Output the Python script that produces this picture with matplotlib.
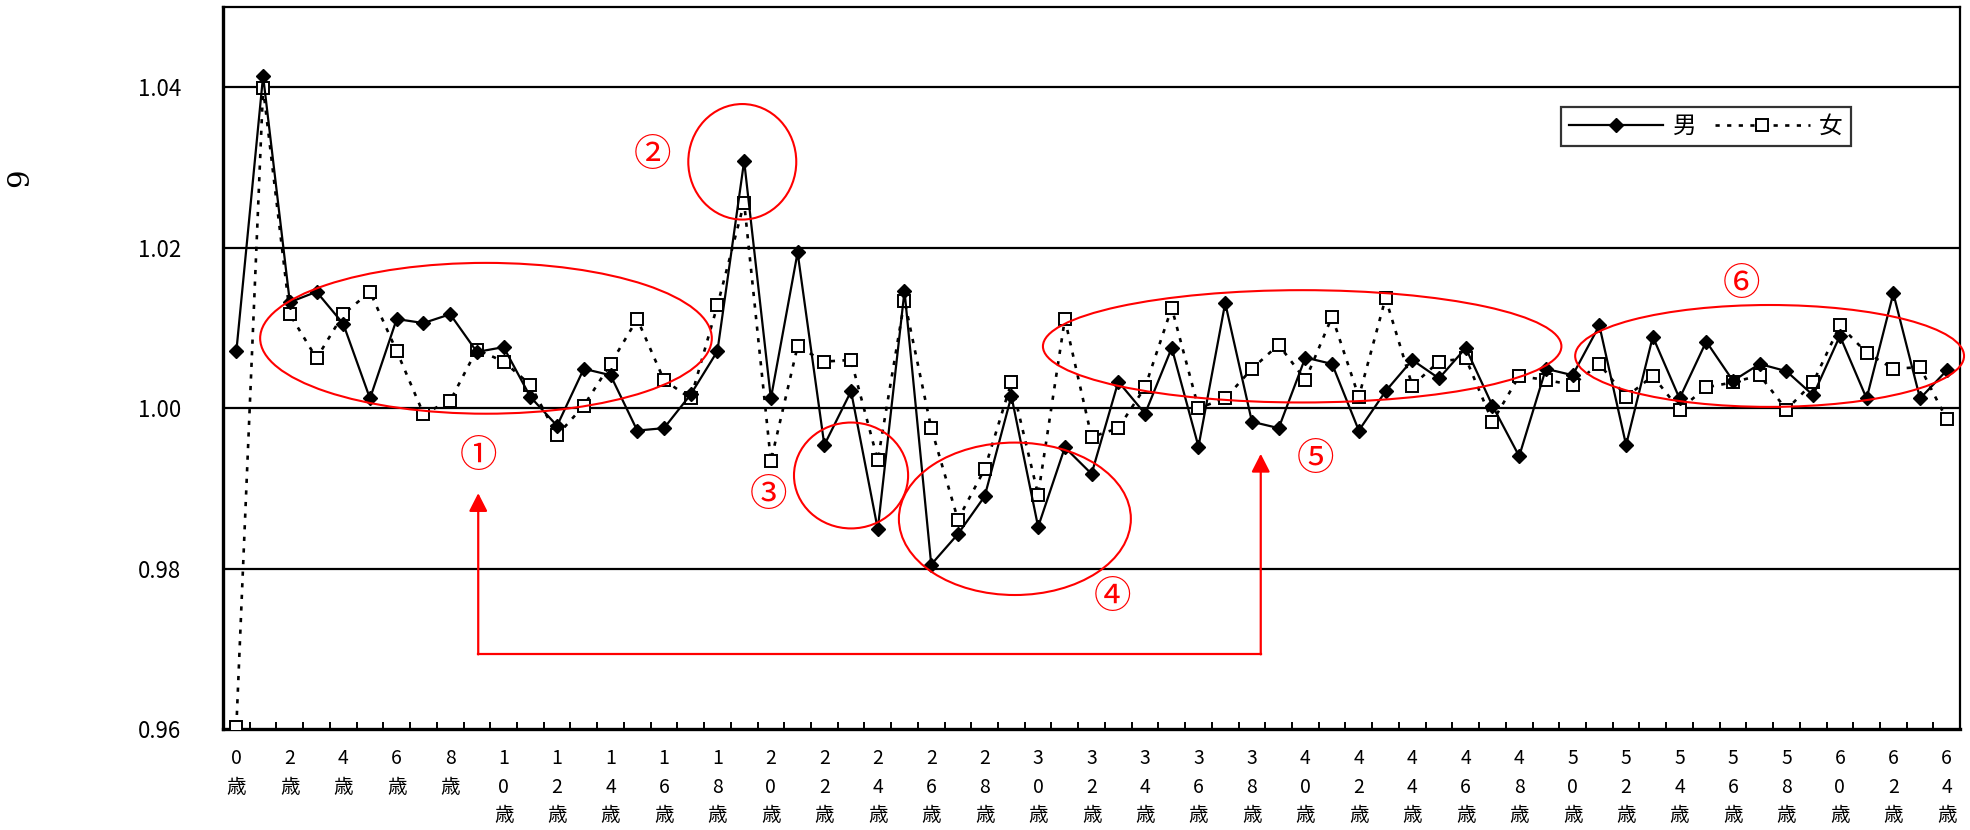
import matplotlib
matplotlib.use("Agg")
import matplotlib.pyplot as plt
from matplotlib.patches import Ellipse

plt.rcParams['font.family'] = ['Noto Sans CJK JP', 'DejaVu Sans']

# ages 0..64, one category per year
ages = list(range(65))

male = [1.0071, 1.0414, 1.0132, 1.0145, 1.0105, 1.0012, 1.0111, 1.0106, 1.0117, 1.0070,
        1.0076, 1.0014, 0.9978, 1.0049, 1.0041, 0.9972, 0.9975, 1.0017, 1.0071, 1.0308,
        1.0012, 1.0194, 0.9954, 1.0021, 0.9849, 1.0146, 0.9805, 0.9843, 0.9890, 1.0015,
        0.9852, 0.9951, 0.9918, 1.0033, 0.9993, 1.0075, 0.9952, 1.0131, 0.9983, 0.9975,
        1.0063, 1.0055, 0.9972, 1.0021, 1.0060, 1.0037, 1.0075, 1.0003, 0.9940, 1.0049,
        1.0041, 1.0103, 0.9954, 1.0089, 1.0012, 1.0083, 1.0034, 1.0055, 1.0046, 1.0016,
        1.0090, 1.0012, 1.0143, 1.0012, 1.0047]

female = [0.9603, 1.0399, 1.0117, 1.0062, 1.0117, 1.0145, 1.0071, 0.9993, 1.0009, 1.0073,
          1.0058, 1.0029, 0.9966, 1.0003, 1.0055, 1.0111, 1.0035, 1.0012, 1.0128, 1.0256,
          0.9934, 1.0077, 1.0058, 1.0060, 0.9935, 1.0134, 0.9975, 0.9861, 0.9924, 1.0032,
          0.9892, 1.0111, 0.9964, 0.9975, 1.0026, 1.0125, 1.0000, 1.0012, 1.0049, 1.0079,
          1.0035, 1.0114, 1.0014, 1.0137, 1.0028, 1.0058, 1.0062, 0.9983, 1.0040, 1.0035,
          1.0029, 1.0055, 1.0014, 1.0040, 0.9998, 1.0026, 1.0032, 1.0041, 0.9998, 1.0032,
          1.0103, 1.0069, 1.0049, 1.0051, 0.9986]

label_ages = ages[::2]
yticks = [0.96, 0.98, 1.00, 1.02, 1.04]

# red annotation ellipses: (x center, y center, width, height)
circles = [
    (9.34, 1.0087, 16.9, 0.0188),
    (18.93, 1.0307, 4.04, 0.0144),
    (23.0, 0.9916, 4.27, 0.0132),
    (29.13, 0.9862, 8.68, 0.0190),
    (39.88, 1.0077, 19.4, 0.0140),
    (57.37, 1.0065, 14.55, 0.0127),
]
circle_labels = ["①", "②", "③", "④", "⑤", "⑥"]
label_pos = [(9.05, 0.9939), (15.57, 1.0314), (19.91, 0.9890),
             (32.8, 0.9763), (40.37, 0.9935), (56.32, 1.0153)]

fig = plt.figure(figsize=(19.7, 8.3), dpi=100)
ax = fig.add_axes([0.1132, 0.1217, 0.8818, 0.8699])

for y in yticks[1:]:
    ax.axhline(y, color="black", lw=1.6, zorder=1)

ax.plot(ages, male, color="black", lw=1.6, marker="D", ms=6.8,
        mfc="black", mec="black", label="男", zorder=4)
ax.plot(ages, female, color="black", lw=1.9, ls=(0, (1.6, 2.8)), marker="s", ms=8.5,
        mfc="white", mec="black", mew=1.4, label="女", zorder=3)

for (cx, cy, w, h) in circles:
    ax.add_patch(Ellipse((cx, cy), w, h, fill=False, ec="red", lw=1.5,
                         clip_on=False, zorder=5))
for t, (lx, ly) in zip(circle_labels, label_pos):
    ax.text(lx, ly, t, color="red", fontsize=27, ha="center", va="center",
            family=["DejaVu Serif", "Noto Sans CJK JP"], zorder=5)

# red arrow path between ① and ⑤
ax.plot([9.05, 38.33], [0.9693, 0.9693], color="red", lw=1.6, zorder=5)
for ax_x, tip in [(9.05, 0.9894), (38.33, 0.9943)]:
    ax.annotate("", xy=(ax_x, tip), xytext=(ax_x, 0.9693),
                arrowprops=dict(arrowstyle="-|>,head_length=0.55,head_width=0.28",
                                color="red", lw=1.6, mutation_scale=20,
                                shrinkA=0, shrinkB=0), zorder=5)

ax.set_xlim(-0.5, 64.5)
ax.set_ylim(0.96, 1.05)
ax.set_yticks(yticks)
ax.set_yticklabels([f"{v:.2f}" for v in yticks], fontsize=16)
ax.tick_params(axis="y", length=0, pad=30)

ax.set_xticks(label_ages)
ax.set_xticklabels(["\n".join(list(str(a)) + ["歳"]) for a in label_ages],
                   fontsize=14, linespacing=1.45, va="top")
ax.tick_params(axis="x", which="major", length=0, pad=14)
ax.set_xticks([a - 0.5 for a in ages] + [64.5], minor=True)
ax.tick_params(axis="x", which="minor", direction="in", length=5, width=1.4)

for s in ["left", "bottom"]:
    ax.spines[s].set_linewidth(2.4)
for s in ["top", "right"]:
    ax.spines[s].set_linewidth(1.6)

leg = ax.legend(loc="upper left", bbox_to_anchor=(0.770, 0.8615), ncol=2,
                fontsize=17, frameon=True, fancybox=False, handlelength=4.0,
                columnspacing=0.8, handletextpad=0.4, borderpad=0.35,
                borderaxespad=0)
leg.get_frame().set_edgecolor("black")
leg.get_frame().set_linewidth(1.6)

fig.text(20 / 1970, 1 - 178 / 830, "9", rotation=90, fontsize=21,
         ha="center", va="center", family=["DejaVu Serif"])

fig.savefig("out.png", dpi=100)
